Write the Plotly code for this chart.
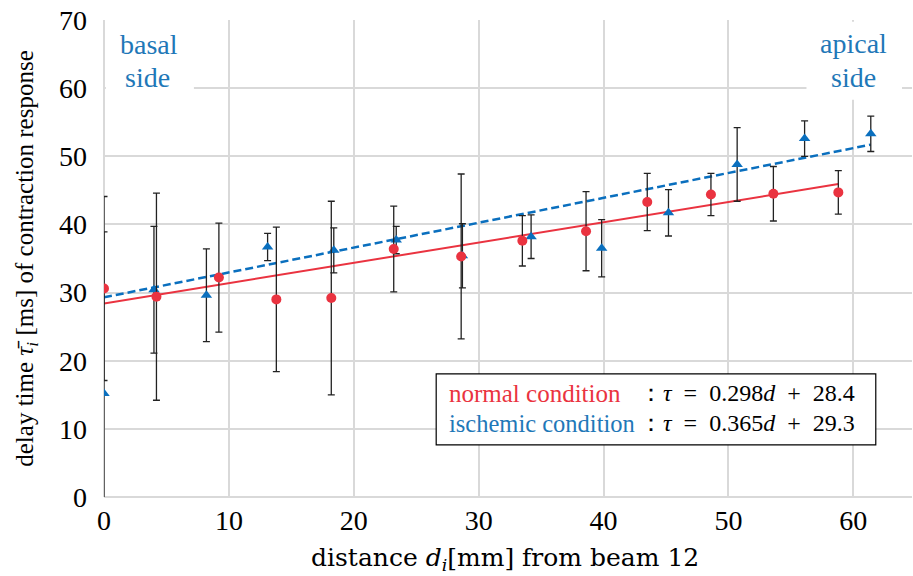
import plotly.graph_objects as go

# ---- data ----
normal_x = [0, 4.2, 9.2, 13.8, 18.2, 23.2, 28.6, 33.5, 38.6, 43.5, 48.6, 53.6, 58.8]
normal_y = [30.6, 29.4, 32.2, 29.0, 29.2, 36.4, 35.3, 37.6, 39.0, 43.3, 44.4, 44.5, 44.7]
normal_err = [13.5, 15.2, 8.0, 10.6, 14.2, 6.3, 12.1, 3.7, 5.8, 4.2, 3.1, 4.0, 3.2]

ischemic_x = [0, 4.0, 8.2, 13.1, 18.4, 23.4, 28.7, 34.2, 39.85, 45.2, 50.7, 56.1, 61.4]
ischemic_y = [15.2, 30.4, 29.6, 36.7, 36.2, 37.7, 35.4, 38.2, 36.5, 41.7, 48.8, 52.6, 53.3]
ischemic_err = [23.7, 9.3, 6.8, 2.0, 3.3, 2.0, 4.7, 3.2, 4.2, 3.4, 5.4, 2.6, 2.6]

normal_slope, normal_icpt = 0.298, 28.4
isch_slope, isch_icpt = 0.365, 29.3

x_ticks = [0, 10, 20, 30, 40, 50, 60]
y_ticks = [0, 10, 20, 30, 40, 50, 60, 70]

RED = "#EA3340"
BLUE = "#0A6FBE"
TXT_BLUE = "#1F78B8"
FONT = "Liberation Serif, Times New Roman, serif"
WIDE = "DejaVu Serif, serif"
NB = "\u00a0"

fig = go.Figure()

# trend lines (from the fitted equations)
nx = [min(normal_x), max(normal_x)]
fig.add_trace(go.Scatter(x=nx, y=[normal_slope * v + normal_icpt for v in nx],
                         mode="lines", line=dict(color=RED, width=2),
                         hoverinfo="skip", showlegend=False))
ix = [min(ischemic_x), max(ischemic_x)]
fig.add_trace(go.Scatter(x=ix, y=[isch_slope * v + isch_icpt for v in ix],
                         mode="lines", line=dict(color=BLUE, width=2.5, dash="8px,4px"),
                         hoverinfo="skip", showlegend=False))

fig.add_trace(go.Scatter(x=ischemic_x, y=ischemic_y, mode="markers",
                         marker=dict(symbol="triangle-up", size=10, color=BLUE),
                         error_y=dict(type="data", array=ischemic_err, visible=True,
                                      color="#222222", thickness=1.3, width=3.5),
                         name="ischemic condition", showlegend=False))
fig.add_trace(go.Scatter(x=normal_x, y=normal_y, mode="markers",
                         marker=dict(symbol="circle", size=10, color=RED),
                         error_y=dict(type="data", array=normal_err, visible=True,
                                      color="#222222", thickness=1.3, width=3.5),
                         name="normal condition", showlegend=False))

# white boxes behind side labels (hide gridlines)
fig.add_shape(type="rect", x0=0.15, x1=7.2, y0=58.3, y1=69.75, layer="between",
              fillcolor="white", line=dict(width=0))
fig.add_shape(type="rect", x0=56.25, x1=63.9, y0=58.3, y1=69.75, layer="between",
              fillcolor="white", line=dict(width=0))

side_font = dict(family=FONT, size=28, color=TXT_BLUE)
fig.add_annotation(x=3.6, y=66.4, text="basal", showarrow=False, font=side_font,
                   xanchor="center", yanchor="middle")
fig.add_annotation(x=3.5, y=61.6, text="side", showarrow=False, font=side_font,
                   xanchor="center", yanchor="middle")
fig.add_annotation(x=60.0, y=66.5, text="apical", showarrow=False, font=side_font,
                   xanchor="center", yanchor="middle")
fig.add_annotation(x=60.0, y=61.6, text="side", showarrow=False, font=side_font,
                   xanchor="center", yanchor="middle")

# equation box
fig.add_shape(type="rect", x0=26.6, x1=61.8, y0=7.64, y1=18.06, layer="above",
              fillcolor="white", line=dict(width=1.2, color="black"))
fig.add_annotation(x=27.45, y=15.23, text="normal condition", showarrow=False,
                   font=dict(family=FONT, size=25, color=RED),
                   xanchor="left", yanchor="middle")
fig.add_annotation(x=27.45, y=10.83, text="ischemic condition", showarrow=False,
                   font=dict(family=FONT, size=24.5, color=TXT_BLUE),
                   xanchor="left", yanchor="middle")
eq_n = f"：<i>τ</i>{NB}{NB}={NB}{NB}{normal_slope:.3f}<i>d</i>{NB}{NB}+{NB}{NB}{normal_icpt}"
eq_i = f"：<i>τ</i>{NB}{NB}={NB}{NB}{isch_slope:.3f}<i>d</i>{NB}{NB}+{NB}{NB}{isch_icpt}"
fig.add_annotation(x=42.65, y=15.23, text=eq_n, showarrow=False,
                   font=dict(family=FONT, size=24, color="black"),
                   xanchor="left", yanchor="middle")
fig.add_annotation(x=42.65, y=10.83, text=eq_i, showarrow=False,
                   font=dict(family=FONT, size=24, color="black"),
                   xanchor="left", yanchor="middle")

# x axis title
fig.add_annotation(xref="paper", yref="paper", x=0.496, y=-0.13,
                   text="distance <i>d<sub>i</sub></i>[mm] from beam 12", showarrow=False,
                   font=dict(family=WIDE, size=25, color="black"),
                   xanchor="center", yanchor="middle")

fig.update_layout(
    width=913, height=576,
    margin=dict(l=104, r=1, t=20, b=79),
    paper_bgcolor="white", plot_bgcolor="white",
    font=dict(family=FONT, size=28, color="black"),
    showlegend=False,
    xaxis=dict(range=[0, 64.7], tickvals=x_ticks, ticktext=[str(v) for v in x_ticks],
               showgrid=True, gridcolor="#D9D9D9", gridwidth=1.5,
               zeroline=True, zerolinecolor="#D9D9D9", zerolinewidth=1.5,
               showline=False, ticks="", ticklabelstandoff=4,
               automargin=False),
    yaxis=dict(range=[0, 70], tickvals=y_ticks, ticktext=[str(v) for v in y_ticks],
               showgrid=True, gridcolor="#D9D9D9", gridwidth=1.5,
               zeroline=True, zerolinecolor="#D9D9D9", zerolinewidth=1.5,
               showline=False, ticks="", ticklabelstandoff=16,
               title=dict(text="delay time <i>τ\u0304<sub>i</sub></i> [ms] of contraction response",
                          font=dict(family=FONT, size=25), standoff=18),
               automargin=False),
)

fig.write_html("out.html", config={"displayModeBar": False},
               post_script="document.body.style.margin='0';")
